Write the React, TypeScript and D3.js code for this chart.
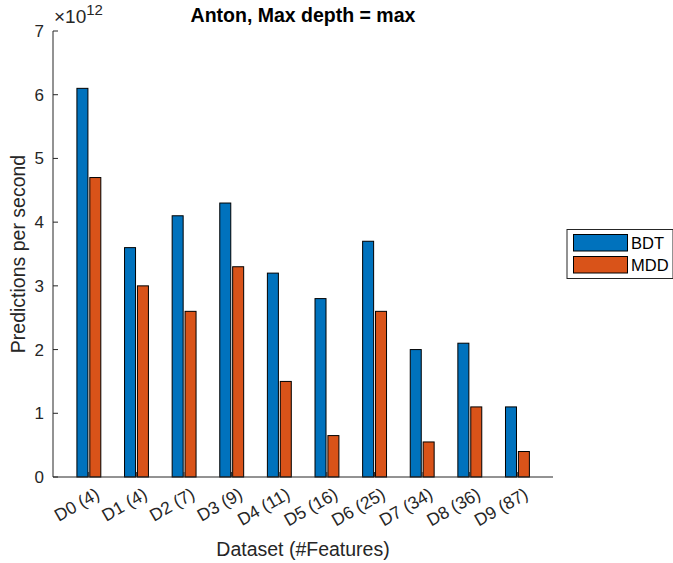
import React from "react";
import * as d3 from "d3";

const categories = ["D0 (4)", "D1 (4)", "D2 (7)", "D3 (9)", "D4 (11)", "D5 (16)", "D6 (25)", "D7 (34)", "D8 (36)", "D9 (87)"];
const bdtValues = [6.1, 3.6, 4.1, 4.3, 3.2, 2.8, 3.7, 2.0, 2.1, 1.1];
const mddValues = [4.7, 3.0, 2.6, 3.3, 1.5, 0.65, 2.6, 0.55, 1.1, 0.4];
const seriesNames = ["BDT", "MDD"];
const yTicks = [0, 1, 2, 3, 4, 5, 6, 7];

const W = 673, H = 563;
const left = 53, right = 553, top = 31, bottom = 477;
const font = "'Liberation Sans', Arial, Helvetica, sans-serif";
const axisColor = "#262626";
const colors = ["#0072BD", "#D95319"];

export default function App() {
  const x = d3.scaleLinear().domain([0.25, categories.length + 0.75]).range([left, right]);
  const y = d3.scaleLinear().domain([0, 7]).range([bottom, top]);
  const bw = 11;
  const offsets = [-6.3, 6.6];
  const series = [bdtValues, mddValues];
  return (
    <svg width={W} height={H} style={{ position: "absolute", left: 0, top: 0, background: "#fff" }} fontFamily={font}>
      <rect x={0} y={0} width={W} height={H} fill="#fff" />
      {series.map((vals, s) =>
        vals.map((v, i) => (
          <rect key={`${s}-${i}`} x={x(i + 1) + offsets[s] - bw / 2} y={y(v)} width={bw} height={y(0) - y(v)}
            fill={colors[s]} stroke="#000" strokeWidth={1} />
        ))
      )}
      {/* axes */}
      <line x1={left} x2={left} y1={top} y2={bottom} stroke={axisColor} strokeWidth={1} />
      <line x1={left} x2={right} y1={bottom} y2={bottom} stroke={axisColor} strokeWidth={1} />
      {yTicks.map(t => (
        <g key={t}>
          <line x1={left} x2={left + 5} y1={y(t)} y2={y(t)} stroke={axisColor} />
          <text x={left - 9} y={y(t)} dy="0.35em" textAnchor="end" fontSize={17} fill={axisColor}>{t}</text>
        </g>
      ))}
      {categories.map((c, i) => (
        <g key={c}>
          <line x1={x(i + 1)} x2={x(i + 1)} y1={bottom} y2={bottom - 5} stroke={axisColor} />
          <text transform={`translate(${x(i + 1) + 6},${bottom + 10}) rotate(-30)`} textAnchor="end" dy="0.7em" fontSize={17.5} fill={axisColor}>{c}</text>
        </g>
      ))}
      <text x={54} y={23} fontSize={19} fill={axisColor}>×10<tspan dy={-8} fontSize={15}>12</tspan></text>
      <text x={(left + right) / 2} y={22} textAnchor="middle" fontWeight="bold" fontSize={19.5} fill="#000">Anton, Max depth = max</text>
      <text x={(left + right) / 2} y={556} textAnchor="middle" fontSize={19.5} fill={axisColor}>Dataset (#Features)</text>
      <text transform={`translate(25,${(top + bottom) / 2}) rotate(-90)`} textAnchor="middle" fontSize={19.5} fill={axisColor}>Predictions per second</text>
      {/* legend */}
      <rect x={567} y={229.5} width={106} height={49} fill="#fff" stroke={axisColor} strokeWidth={1} />
      {seriesNames.map((n, i) => (
        <g key={n}>
          <rect x={573.5} y={234.5 + i * 22} width={54} height={16.5} fill={colors[i]} stroke="#000" />
          <text x={631} y={243 + i * 22} dy="0.35em" fontSize={16.5} fill="#000">{n}</text>
        </g>
      ))}
    </svg>
  );
}
